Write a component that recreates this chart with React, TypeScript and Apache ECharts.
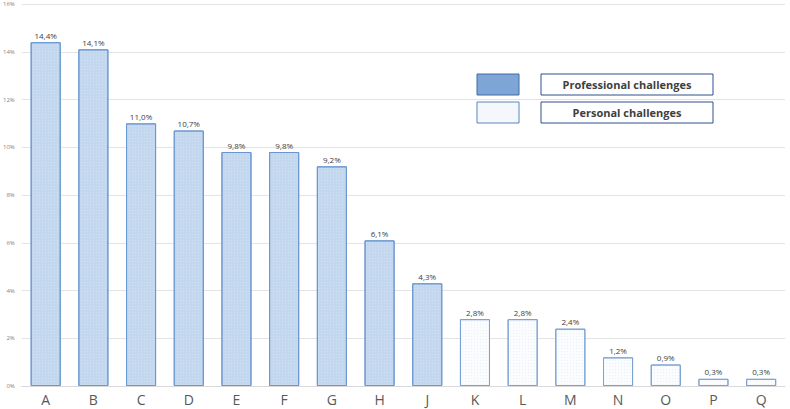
import React, { useEffect, useRef } from "react";
import * as echarts from "echarts";

const categories = ["A", "B", "C", "D", "E", "F", "G", "H", "J", "K", "L", "M", "N", "O", "P", "Q"];
const professional = [14.4, 14.1, 11.0, 10.7, 9.8, 9.8, 9.2, 6.1, 4.3, null, null, null, null, null, null, null];
const personal = [null, null, null, null, null, null, null, null, null, 2.8, 2.8, 2.4, 1.2, 0.9, 0.3, 0.3];
const yTicks = [0, 2, 4, 6, 8, 10, 12, 14, 16];
const legendLabels = ["Professional challenges", "Personal challenges"];

const fmt = (v: number) => v.toFixed(1).replace(".", ",") + "%";

export default function App() {
  const ref = useRef<HTMLDivElement>(null);
  useEffect(() => {
    if (!ref.current) return;
    const chart = echarts.init(ref.current, null, { renderer: "svg" });
    const font = "'Open Sans', Calibri, sans-serif";
    const labelCfg = {
      show: true,
      position: "top" as const,
      distance: 3,
      fontSize: 8,
      color: "#404040",
      fontFamily: font,
      formatter: (p: any) => fmt(p.value),
    };
    chart.setOption({
      animation: false,
      backgroundColor: "#ffffff",
      grid: { left: 20, right: 5, top: 4, bottom: 23, containLabel: false },
      xAxis: {
        type: "category",
        data: categories,
        axisLine: { lineStyle: { color: "#d9d9d9" } },
        axisTick: { show: false },
        axisLabel: { fontSize: 14, color: "#595959", fontFamily: font, margin: 6 },
      },
      yAxis: {
        type: "value",
        min: yTicks[0],
        max: yTicks[yTicks.length - 1],
        interval: 2,
        axisLine: { show: false },
        axisTick: { show: false },
        splitLine: { lineStyle: { color: "#e3e3e3" } },
        axisLabel: {
          fontSize: 6,
          color: "#7f7f7f",
          fontFamily: font,
          margin: 7,
          formatter: (v: number) => v + "%",
        },
      },
      series: [
        {
          name: legendLabels[0],
          type: "bar",
          data: professional,
          barWidth: "63%",
          barGap: "-100%",
          itemStyle: {
            color: "#c3d7ef",
            borderColor: "#6a97cf",
            borderWidth: 1,
            decal: {
              symbol: "rect",
              symbolSize: 0.7,
              color: "rgba(255,255,255,0.7)",
              dashArrayX: [1, 2],
              dashArrayY: [1, 2],
              rotation: 0,
            },
          },
          label: labelCfg,
        },
        {
          name: legendLabels[1],
          type: "bar",
          data: personal,
          barWidth: "63%",
          itemStyle: {
            color: "#fbfcfe",
            borderColor: "#7aa2d2",
            borderWidth: 1,
            decal: {
              symbol: "rect",
              symbolSize: 0.5,
              color: "rgba(150,180,215,0.6)",
              dashArrayX: [1, 2],
              dashArrayY: [1, 2],
              rotation: 0,
            },
          },
          label: labelCfg,
        },
      ],
      graphic: [
        {
          type: "rect",
          shape: { x: 477, y: 74, width: 42, height: 21 },
          style: { fill: "#7fa5d6", stroke: "#3f6aa6", lineWidth: 1 },
        },
        {
          type: "rect",
          shape: { x: 541, y: 74, width: 172, height: 21 },
          style: { fill: "#ffffff", stroke: "#2f4f8f", lineWidth: 1 },
        },
        {
          type: "text",
          x: 627,
          y: 84.5,
          style: {
            text: legendLabels[0],
            fill: "#404040",
            font: "bold 11px 'Open Sans', Calibri, sans-serif",
            align: "center",
            verticalAlign: "middle",
          },
        },
        {
          type: "rect",
          shape: { x: 477, y: 102, width: 42, height: 21 },
          style: { fill: "#f4f8fc", stroke: "#5a84bd", lineWidth: 1 },
        },
        {
          type: "rect",
          shape: { x: 541, y: 102, width: 172, height: 21 },
          style: { fill: "#ffffff", stroke: "#2f4f8f", lineWidth: 1 },
        },
        {
          type: "text",
          x: 627,
          y: 112.5,
          style: {
            text: legendLabels[1],
            fill: "#404040",
            font: "bold 11px 'Open Sans', Calibri, sans-serif",
            align: "center",
            verticalAlign: "middle",
          },
        },
      ],
    });
    return () => chart.dispose();
  }, []);
  return <div ref={ref} style={{ width: 790, height: 409, position: "absolute", left: 0, top: 0 }} />;
}
